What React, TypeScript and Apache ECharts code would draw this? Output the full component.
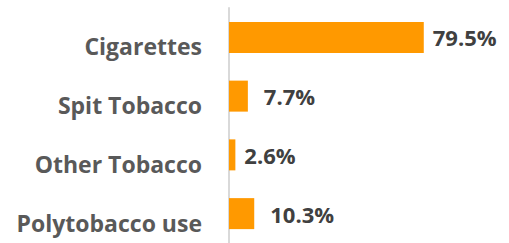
import React, { useEffect, useRef } from "react";
import * as echarts from "echarts";

const categories = ["Cigarettes", "Spit Tobacco", "Other Tobacco", "Polytobacco use"];
const values = [79.5, 7.7, 2.6, 10.3];

const labelGaps = [9, 16, 9, 16];

export default function App() {
  const ref = useRef<HTMLDivElement>(null);
  useEffect(() => {
    if (!ref.current) return;
    const chart = echarts.init(ref.current, null, { renderer: "svg" });
    chart.setOption({
      animation: false,
      grid: { left: 229, top: 8, width: 245, height: 242, containLabel: false },
      xAxis: {
        type: "value",
        min: 0,
        max: 100,
        show: false,
      },
      yAxis: {
        type: "category",
        data: categories,
        inverse: true,
        axisLine: { show: true, lineStyle: { color: "#d9d9d9", width: 2 } },
        axisTick: { show: false },
        axisLabel: {
          margin: 27,
          color: "#595959",
          fontFamily: "Open Sans",
          fontWeight: "bold",
          fontSize: 23,
          verticalAlign: "top",
          lineHeight: 18,
        },
      },
      series: [
        {
          type: "bar",
          data: values.map((v, i) => ({
            value: v,
            label: { distance: labelGaps[i] },
          })),
          barWidth: 31,
          itemStyle: { color: "#FF9900" },
          label: {
            show: true,
            position: "right",
            formatter: (p: any) => p.value.toFixed(1) + "%",
            color: "#404040",
            fontFamily: "Open Sans",
            fontWeight: "bold",
            fontSize: 22,
          },
        },
      ],
    });
    return () => chart.dispose();
  }, []);
  return (
    <div
      ref={ref}
      style={{ position: "fixed", left: 0, top: 0, width: 509, height: 243, background: "#fff" }}
    />
  );
}
